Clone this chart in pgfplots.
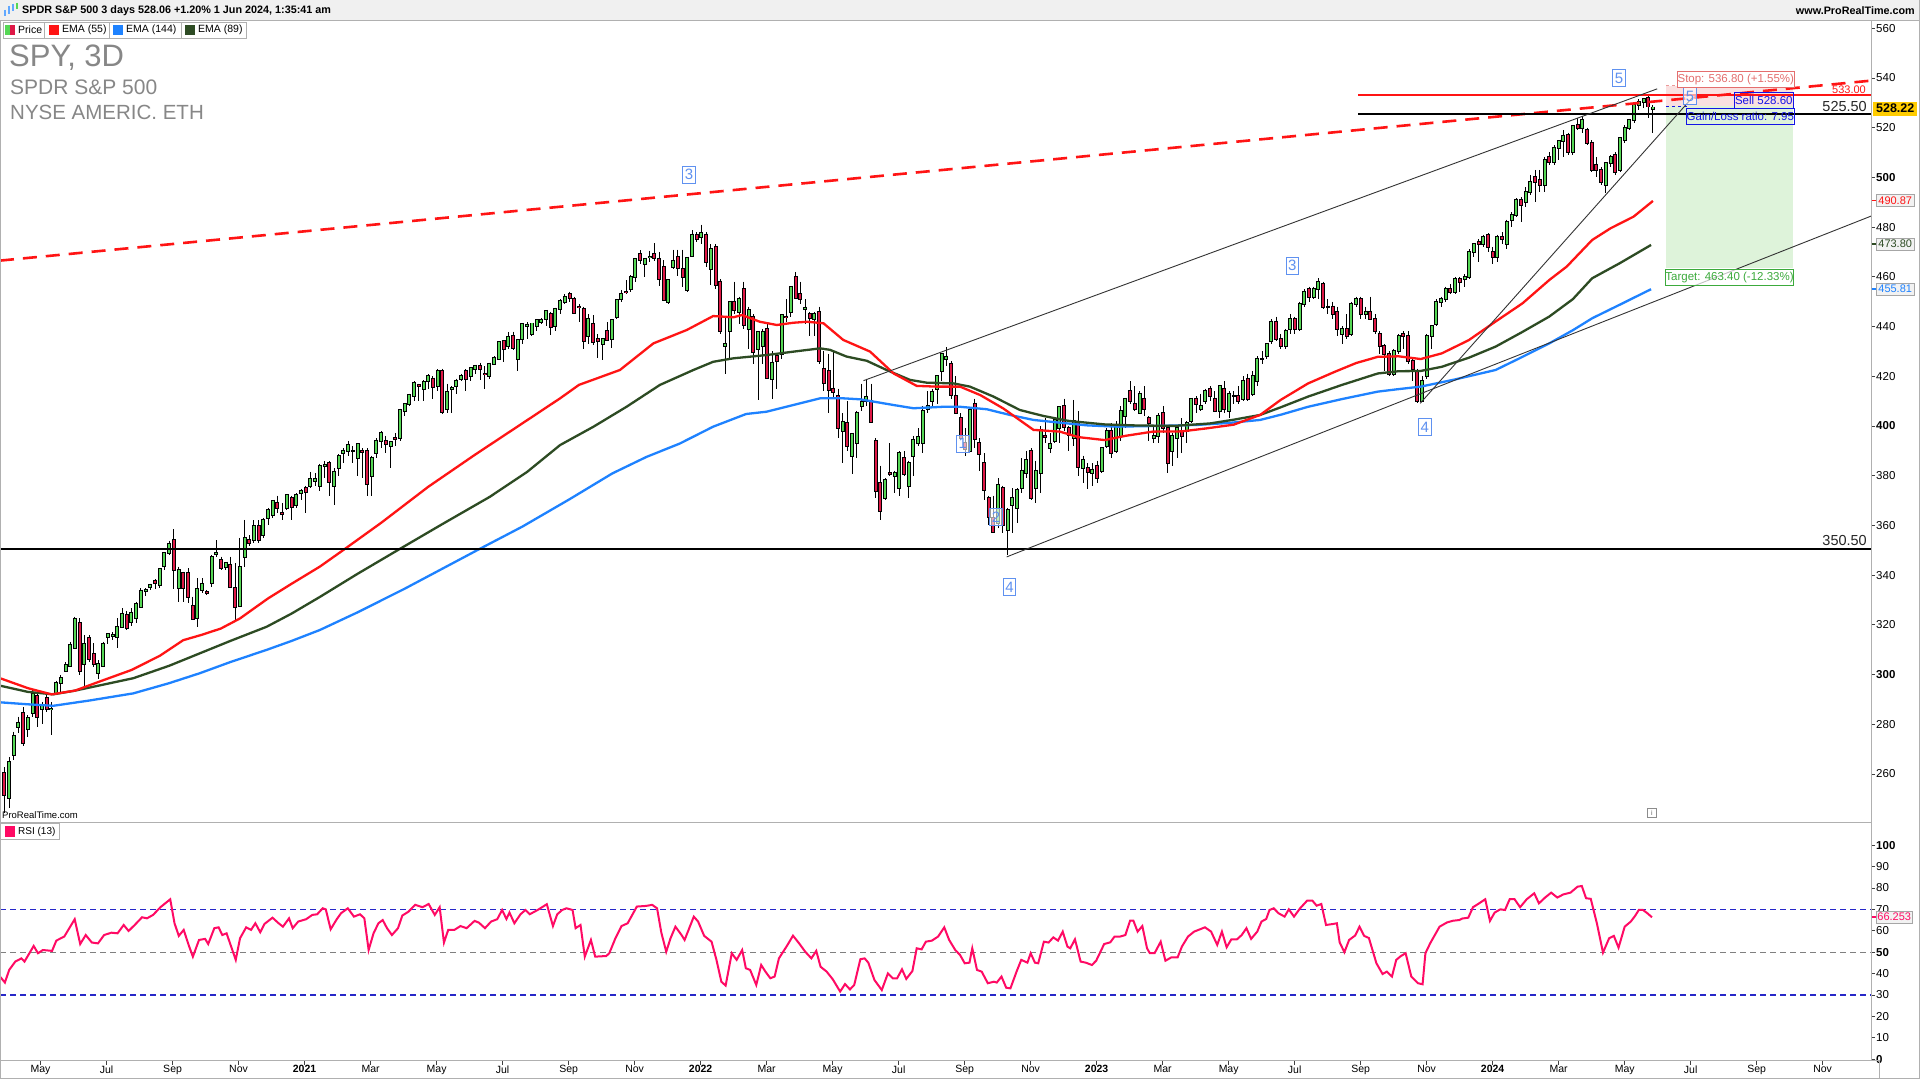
\documentclass[border=0pt]{standalone}
\usepackage{pgfplots}
\pgfplotsset{compat=1.18}
\usepackage{pgfplotstable}
\usepackage{fontspec}
\setmainfont{Liberation Sans}
\definecolor{upc}{RGB}{85,215,85}
\definecolor{dnc}{RGB}{222,24,70}
\definecolor{emaA}{RGB}{255,20,20}
\definecolor{emaB}{RGB}{45,75,35}
\definecolor{emaC}{RGB}{30,130,255}
\definecolor{rsic}{RGB}{255,10,100}
\definecolor{wave}{RGB}{95,145,240}
\definecolor{frame}{RGB}{176,176,176}
\definecolor{stopc}{RGB}{228,110,110}
\definecolor{tgtc}{RGB}{60,170,60}
\definecolor{sellc}{RGB}{20,20,230}
\definecolor{pinkbox}{RGB}{250,224,224}
\definecolor{greenbox}{RGB}{222,243,218}
\definecolor{gold}{RGB}{255,204,0}
\definecolor{rsiband}{RGB}{40,40,200}
\pgfplotstableread{
i o h l c
0 260.2 262.6 244.1 251.4
1 250.2 266.7 246.1 264.7
2 267.6 277 265.6 275.3
3 279 283 276.3 280.6
4 284.6 286.8 271.2 272.6
5 277.9 283.5 275 282.4
6 284.6 293.8 283 292.1
7 291.3 292.4 278.8 283
8 286 289 280 287.7
9 290.4 292.4 285 286
10 286 289 275.7 286.3
11 292.4 297.5 291.8 296.4
12 296.4 299.8 292.4 298.4
13 301.5 305 301 303.8
14 303.4 313.2 303.1 311.9
15 310.8 323.3 310.8 322.2
16 320.6 322.6 299.8 301.5
17 304.2 315.9 294.4 312.3
18 314.5 315.9 305.2 306.1
19 308.1 312.5 303.2 304.2
20 300.7 305.8 298 304.2
21 303.5 313.2 303.1 312.3
22 315 316.3 312.3 316.3
23 315.6 317 314 315.9
24 315 322.6 310.5 319
25 319 326.6 318.6 324.3
26 323.9 325.6 317.9 318.8
27 321.2 326.6 319.5 324.9
28 322.6 329.3 320.8 328.4
29 327.3 334.6 326.6 333.7
30 333.6 334.6 331.5 333.8
31 335 336.6 334 336
32 337.6 338.3 334.5 337
33 336 342.3 334.6 342.3
34 343.8 349.3 342 348.7
35 348.7 353.8 348 352.5
36 354.1 358.4 334.3 342
37 334.6 343.4 329.3 342
38 340.7 341.4 329.3 334.6
39 340.7 342.7 328.9 331
40 327.6 331.3 321.9 322.2
41 322.6 338.7 319.2 334.3
42 334 338.7 332.6 336.4
43 333 334 332 332.9
44 336.7 348.1 335.3 347.1
45 348.5 354.1 347.4 348.7
46 346 347.4 342 342.7
47 343.4 345 342 345
48 344 347.4 334.6 335.3
49 334.6 344.7 322 327
50 327.5 355 327.3 343.1
51 347.4 362.2 343.4 354.8
52 354.1 356 351.5 352.8
53 354.1 362 352.8 359.7
54 359.7 362 353 354.1
55 356 363 355 362
56 363 367 360 366
57 364 370 363 369.9
58 369 372 365 366.9
59 365 369 362 364.7
60 367 372.5 366 372.2
61 371 372 362 367.2
62 368 373 367 372.2
63 373 374.7 370 373.9
64 375 376 364.8 373.6
65 376 381.5 375 378.7
66 378 381 376 378.5
67 376 384.8 374 383.9
68 384 385.9 379 384.4
69 385 385.9 372 377.6
70 376 383 368 381.6
71 383 388.5 380 387.7
72 389 391 385 390.1
73 390 394 388 392.4
74 390 392 385 390
75 387 393 380 392.6
76 390 391 379 389.6
77 390 391 371.9 376.7
78 380 388 372 387.2
79 389 395 387 394.1
80 394 398 391 397.3
81 394 396 389 392.6
82 392 394 383 393.5
83 395 397 392 394.7
84 395 407 394 406.4
85 406 409 404 408.9
86 409 413 408 412.5
87 412 417.9 410 417.3
88 416.3 417 410 416.1
89 415 418.3 410 417.6
90 418 420.7 415 420.1
91 419 420 411 415.6
92 416 422.8 414 422.1
93 422 423 404.7 405.4
94 407 417 405 413.5
95 415 416 405 415.3
96 416 419 413 418.2
97 419 421 418 420
98 422 422.7 414 418.8
99 420 423.2 418 423.1
100 423 424.6 421 424.3
101 424 425.5 418.5 422.7
102 421 424 414.7 420.9
103 420 425.5 419 425.1
104 425 428 424.5 427.5
105 427 434 426.5 433.7
106 434 434.1 425.6 430.9
107 432 437.8 431 435.6
108 436 437.9 430.5 431.3
109 427 435 422 434.6
110 435 441.1 433 441
111 440 441.8 435 440.7
112 437 441.3 436.1 441.2
113 440 442.9 438 442.5
114 442 443.4 440.8 442.7
115 443 446.4 440 446.3
116 445 446 436.4 439.8
117 440 447.6 438 447.1
118 447 451 445 450.3
119 450 453.1 449 451.8
120 453 454 450 451.5
121 451 452 445.2 445.4
122 448 448.9 442 447.9
123 447 448 430.9 434
124 436 444.9 433 443.2
125 441 444.5 432.7 433.7
126 435 436.8 427.5 434.2
127 433 435 426.4 434.9
128 438 441.7 434.7 434.7
129 435 442.7 431.5 442.5
130 444 450.7 443 450.6
131 451 454.7 450 453.1
132 454 458.5 453 453.9
133 455 460.7 454 460
134 460 467.4 458 467
135 469 470.7 465 466.7
136 465 467.5 460 467.3
137 468 470.5 466 468.1
138 469 473.5 466.5 467.6
139 467 470 456.4 459
140 464 466.6 450.4 450.5
141 450 459 448.9 458.8
142 464 470.9 463 466.4
143 468 470.9 460.3 463.4
144 463 470.9 456 459.9
145 454.5 467.8 454 467.7
146 468.5 478.8 468 477
147 477 477.9 474 475
148 476 481 473 477.6
149 477 478 464 466
150 463 473 456.6 471
151 472 473 455 456.5
152 458 459 437 438
153 432 444 420.8 433
154 438 450 427 450
155 450 458 445 446.6
156 446 452 441 451
157 455 458 439 440.5
158 439 448 431 446.6
159 444 445 425 429.6
160 431 438 410.6 437.8
161 432 439 425 437.9
162 439 441 419 419.4
163 419 430 411 425.5
164 428 429 415 426
165 429 445 427 444.5
166 444 451 442 443.8
167 446 456 444 456
168 460 462 451 451.6
169 453 458 449 451
170 447 451 441 447.6
171 445 446 436 443.3
172 443 446 436 445
173 446 448 425 426
174 423 430 414 417.3
175 422 429 405 414.5
176 415 430 411 413.8
177 412 415 395 399
178 398 405 385 401.7
179 401 410 390 391.9
180 388 397 380.5 396.9
181 393 406 387 405.3
182 408 417 406 409.6
183 410 419 408 411.8
184 410 417 401 401.4
185 394 395 371 373.9
186 377 384 362.2 365.9
187 371 379 370 378.1
188 381 393 380 380.6
189 380 382 373 381.2
190 375 389.8 372 389
191 387 390 380 380.8
192 376 386 371 385
193 388 396 380 394.4
194 393 399 392 395.6
195 393 408 389 406
196 407 414 405 408
197 410 415 408 413.5
198 415 420 409 420
199 422 429 418 429
200 427 431.7 424 427.9
201 425 426 411 412.4
202 412 420 405 405.3
203 403 405 395 395.2
204 393 399 388 390.8
205 390 407 389 406.6
206 409 411 391 394.6
207 393 395 382 388.6
208 385 389 370 374.2
209 371 372 360 363.4
210 363 372 357 357.2
211 361 379 359 376.4
212 375 376 357 360
213 358 367 348.1 366
214 368 375 357 371.1
215 367 375 361 374.3
216 375 387 373 382
217 381 390 379 386.2
218 390 391 370 371
219 375 386 369 382
220 381 400 373 398.5
221 396 403 393 395.5
222 391 397 389 392.8
223 394 403 393 402.3
224 399 408 393 407.7
225 408 411 398 399.6
226 399 400 390 396.2
227 395 410.5 392 402
228 401 406 380 383.3
229 383 388 377 386.2
230 383 385 374.8 381.4
231 381 385 376 382.4
232 384 386 377 379
233 382 391 381 391
234 392 399 391 398
235 398 401 387 389
236 390 402 389 400
237 396 408 394 406
238 404 411 399 411
239 414 418 409 410
240 409 416 406 407
241 405 414 405 413
242 411 416 404 407
243 403 404 394 401
244 395 400 393 396
245 396 405 393 404
246 405 408 397 399
247 399 400 381 385
248 390 397 384 396
249 395 399 387 399
250 398 403 389 396
251 398 402 393 401
252 402 411 401 411
253 411 412 405 409
254 407 413 406 408
255 410 415 409 414
256 415 416 410 412
257 411 414 406 406
258 406 416 403 416
259 415 418 405 407
260 406 414 403 413
261 412 414 409 412
262 412 416 409 410
263 411 420 410 418
264 419 421 410 411
265 413 422 412 420
266 418 428 416 427
267 427 430 425 427
268 428 433 427 433
269 434 443 433 442
270 442 444 434 435
271 435 437 431 432
272 432 439 431 438
273 439 445 437 443
274 443 444 437 439
275 439 450 438 449
276 449 455 448 454
277 455 456 450 452
278 452 456 451 455
279 455 459.4 451 458
280 457 458 447 448
281 448 451 445 448
282 448 450 443 445
283 446 448 436 439
284 437 440 433 439
285 439 445 435 436
286 437 450 436 449
287 449 452 448 451
288 451 452 443 445
289 445 448 443 446
290 446 452 443 443
291 443 445 437 438
292 437 438 429 432
293 432 433 422 429
294 429 430 420 421
295 421 431 420 430
296 430 437 429 436
297 437 438 431 436
298 436 438 425 426
299 426 427 418 423
300 422 423 409.2 410
301 410 420 409.5 418
302 420 437 419 436
303 436 440 431 440
304 441 451 440 450
305 450 452 448 451
306 451 456 450 455
307 455 457 453 454
308 454 460 453 459
309 459 460 454 458
310 459 461 456 460
311 460 471 459 470
312 470 473 468 473
313 474 475 466 473
314 473 477 472 476
315 477 477.5 470 472
316 470 472 465 468
317 468 477 466 476
318 476 478 473 475
319 473 483 471 482
320 483 486 480 485
321 485 491.5 484 491
322 491 492 482 489
323 490 496 488 494
324 494 501 493 498
325 500 503 490 498
326 499 503 494 497
327 497 508 494 507
328 508 510 505 506
329 506 513 505 512
330 512 515 507 514.8
331 514.8 519 508 516.8
332 517 518 509 510
333 510 521 509 520.5
334 521 524 519 520
335 520 524.6 518 523
336 519 520 513 514
337 514 515 502 503
338 505 508 500 503
339 503 504 497 498
340 497 506 493.9 505.7
341 505.7 509 504 508
342 509 510 501 502
343 503 516 502 515.7
344 515 521 514 520
345 520 523.5 519 523
346 523 529.8 522 529
347 529 531.5 527 530.2
348 530.2 532 528 531.5
349 532 533.1 524 528.5
350 527.5 529 518 528.1
}\candles
\pgfplotstableread{
i r
-0.91 38.6
0.13 35.8
1.04 41.7
2.34 45.6
3.64 47.1
4.29 45.6
6.24 52.9
7.15 49.5
8.19 51.0
10.14 50.6
11.05 55.4
12.74 57.3
14.95 65.4
16.12 53.8
17.29 58.0
18.59 54.5
19.89 54.1
21.19 58.0
22.75 59.1
24.05 58.8
25.35 62.7
26.39 59.9
27.69 62.7
29.25 66.3
30.29 65.8
31.59 67.4
33.15 71.0
35.23 74.7
36.14 63.5
37.05 57.6
38.09 60.4
39.13 53.4
40.04 47.9
41.34 55.7
42.64 56.2
43.29 53.8
44.59 61.2
45.50 61.6
46.28 58.0
47.19 58.8
49.14 46.4
50.05 56.5
51.35 61.6
52.39 60.4
53.30 63.5
54.34 59.3
55.25 63.2
56.94 66.1
58.24 63.5
59.15 61.9
60.45 65.8
61.23 61.2
62.40 64.3
64.09 65.4
65.39 67.4
66.43 67.7
67.60 70.5
68.25 70.0
69.29 60.7
70.59 65.4
71.50 68.2
72.93 70.5
74.23 66.6
75.53 67.7
76.44 65.8
77.35 51.0
78.39 58.8
79.43 63.5
80.34 65.0
81.25 61.2
82.29 58.0
83.59 61.2
84.50 67.1
85.80 68.9
87.23 72.1
88.79 71.0
90.09 72.5
91.39 67.4
92.43 71.0
93.34 54.5
94.25 60.4
95.55 60.4
96.85 62.2
98.15 61.2
99.84 64.6
100.75 63.8
102.05 61.2
103.35 64.3
104.65 65.4
105.69 69.7
106.60 65.5
107.25 68.5
108.29 63.5
109.59 67.7
110.63 69.7
111.54 67.7
113.23 69.7
115.18 72.4
116.48 62.2
117.39 67.7
118.43 69.7
119.34 70.5
120.64 69.7
121.29 61.2
122.33 62.7
123.24 47.9
124.54 55.7
125.45 47.9
127.79 48.2
128.44 49.5
129.74 56.5
131.04 62.2
132.34 63.5
134.29 71.3
136.24 71.6
137.54 72.1
138.58 70.5
139.49 59.1
140.53 50.2
141.44 56.5
142.48 61.9
143.78 58.0
144.43 55.7
146.38 66.6
147.29 64.3
148.59 57.6
150.15 54.9
151.19 46.4
152.23 36.2
153.14 34.4
154.44 49.5
155.48 46.4
156.65 51.0
157.43 42.5
158.34 41.7
159.64 34.7
160.69 44.0
161.59 40.9
162.63 37.8
163.54 38.6
164.45 47.1
166.14 52.9
167.44 57.7
168.74 54.1
170.04 50.2
171.34 47.1
172.38 50.6
173.29 43.2
174.59 40.9
175.89 37.3
177.45 31.6
178.49 35.1
179.53 32.6
180.44 34.7
181.74 46.7
182.65 47.1
183.43 45.1
184.73 37.0
186.29 32.3
187.59 40.1
188.63 37.8
189.54 37.8
190.58 42.0
191.49 37.5
192.79 41.2
193.70 51.8
194.74 51.3
195.65 54.9
196.95 55.4
198.25 57.3
199.55 61.6
200.59 55.7
201.89 51.0
202.9 48.7
203.9 44.8
204.9 45.1
205.5 51.8
206.5 41.7
207.5 40.9
208.8 35.5
210.1 36.2
210.7 35.8
211.7 38.6
212.7 33.4
213.6 33.1
214.9 40.9
215.9 46.4
217.2 45.1
217.9 49.5
218.8 45.1
219.5 44.8
220.7 54.9
221.7 54.5
222.7 56.9
223.7 55.4
224.7 59.6
225.7 52.6
226.3 51.8
227.3 56.0
228.5 45.6
229.6 45.1
230.9 44.0
231.8 46.0
233.5 53.8
234.8 54.6
235.7 57.3
236.9 57.3
238.0 58.0
239.0 64.7
239.7 64.7
240.6 59.6
241.6 62.2
242.6 51.8
243.2 49.5
244.2 49.5
245.5 54.9
246.5 46.0
247.8 47.6
249.1 47.6
250.0 52.6
251.3 57.3
252.6 59.6
254.9 61.6
256.2 59.6
257.5 53.4
258.5 59.6
259.5 52.3
260.5 56.0
261.7 56.0
262.7 58.0
263.7 61.2
264.7 56.2
266.0 59.6
266.9 64.3
267.9 65.5
268.6 69.7
269.5 70.5
270.5 68.2
271.8 66.6
272.7 70.0
273.8 66.6
275.1 70.5
276.6 74.1
277.7 74.1
278.6 71.7
279.6 72.5
280.6 62.7
282.2 63.2
282.9 63.5
283.5 54.5
284.5 50.0
285.5 55.7
286.8 57.8
287.7 61.9
288.7 57.6
289.7 56.6
291.3 44.8
292.6 39.8
293.5 40.9
294.6 38.6
295.5 46.4
296.5 48.2
297.5 49.5
298.7 38.6
300.1 35.5
301.1 35.0
301.7 49.5
302.7 54.1
303.7 58.0
304.7 61.9
306.3 63.9
307.6 64.7
308.9 65.0
309.5 65.7
310.8 66.1
311.8 71.0
313.1 72.8
314.4 74.7
315.4 64.6
316.4 68.5
317.6 70.0
318.6 69.7
319.6 74.8
320.6 74.8
321.8 71.0
323.2 74.7
324.8 77.5
325.8 72.8
327.1 75.5
328.4 77.8
329.7 75.5
331.0 77.0
332.5 77.8
334.0 80.6
334.9 80.9
335.8 75.2
336.8 74.9
338.1 63.5
339.4 49.8
340.7 56.5
341.7 57.6
342.7 52.1
344.0 61.9
345.3 64.3
346.2 66.9
347.0 69.7
347.9 69.7
348.8 68.2
349.8 66.3
}\rsitab
\begin{document}
\begin{tikzpicture}[x=1pt,y=1pt]
\useasboundingbox (0,0) rectangle (1920,1080);
\fill[white] (0,0) rectangle (1920,1080);
% ================= MAIN PRICE PANEL =================
\begin{axis}[
  at={(0pt,258pt)}, anchor=south west, scale only axis,
  width=1871pt, height=801pt,
  xmin=-0.91, xmax=396.3, ymin=240.65, ymax=562.9,
  axis x line=none, axis y line*=right,
  axis line style={draw=none},
  ytick={260,280,...,560},
  yticklabels={260,280,\textbf{300},320,340,360,380,\textbf{400},420,440,460,480,\textbf{500},520,540,560},
  tick align=outside, major tick length=4pt,
  y tick style={black!75, line width=0.8pt},
  yticklabel style={font=\fontsize{11.5}{12}\selectfont, inner sep=1pt},
  /pgf/number format/assume math mode=true,
]
% trade boxes
\fill[pinkbox] (axis cs:352.8,528.6) rectangle (axis cs:379.8,536.8);
\fill[greenbox] (axis cs:352.8,463.4) rectangle (axis cs:379.8,528.6);
\addplot[stopc!70, dashed, line width=0.8pt] coordinates {(352.8,536.8) (379.8,536.8)};
\addplot[sellc, dashed, line width=0.8pt] coordinates {(352.8,528.6) (357.5,528.6)};
% wicks
\addplot[draw=none, mark=none, error bars/.cd, y dir=minus, y explicit, error mark=none,
  error bar style={draw=black, line width=0.9pt}]
  table[x=i, y=h, y error minus expr={\thisrow{h}-\thisrow{l}}] {\candles};
% body outlines
\addplot[draw=none, mark=none, error bars/.cd, y dir=minus, y explicit, error mark=none,
  error bar style={draw=black, line width=4pt}]
  table[x=i, y expr={max(\thisrow{o},\thisrow{c})+0.4}, y error minus expr={abs(\thisrow{c}-\thisrow{o})+0.8}] {\candles};
% up bodies
\addplot[draw=none, mark=none, error bars/.cd, y dir=minus, y explicit, error mark=none,
  error bar style={draw=upc, line width=2pt}]
  table[x=i, y expr={\thisrow{c}>=\thisrow{o} ? \thisrow{c} : nan}, y error minus expr={\thisrow{c}-\thisrow{o}}] {\candles};
% down bodies
\addplot[draw=none, mark=none, error bars/.cd, y dir=minus, y explicit, error mark=none,
  error bar style={draw=dnc, line width=2pt}]
  table[x=i, y expr={\thisrow{c}<\thisrow{o} ? \thisrow{o} : nan}, y error minus expr={\thisrow{o}-\thisrow{c}}] {\candles};
% EMA 144
\addplot[emaC, line width=2.3pt] coordinates {
(-0.9,288.8) (5,288) (10.4,287.4) (18,289.5) (27.4,292.4) (35,296.5) (41.5,300.5) (48,305) (55.7,309.9) (61,313.5) (67,317.9) (75,325) (85,334.5) (100.5,350.1) (110,359.5) (120,370.5) (129.1,380.9) (136.3,387.5) (143.4,392.9) (150.5,399.7) (157.5,404.8) (161.8,405.7) (167.5,408.4) (173.2,411.1) (178.1,411.1) (181.7,410.7) (188.8,408.4) (193,407.1) (199.4,407.7) (202.9,407.7) (208.6,406.7) (213.5,404.4) (218.5,402.4) (224.1,401.3) (230,400.2) (236.2,399.7) (245,400) (253.3,400.4) (260,401.2) (266.6,402.4) (271,404.5) (276.8,407.7) (284,410.8) (291.6,413.8) (296,414.8) (300.7,415.8) (308,418.7) (316.6,422.5) (322,427.5) (328,433.2) (333,438.5) (337.1,443.3) (343,448.8) (349.6,455)};
% EMA 89
\addplot[emaB, line width=2.3pt] coordinates {
(-0.9,295.5) (5,293) (10.4,292) (15,293.5) (20,295.5) (27.4,298.5) (35,303.5) (41.5,308.5) (48,313.5) (55.7,319.2) (61,324.5) (67,331.2) (75,340.5) (83.6,350.1) (93,360.5) (103.1,371.5) (111,381.5) (118,392.3) (125.1,399.7) (132.1,407.7) (139.2,416.5) (146.3,422.5) (150.5,425.8) (154.8,427.2) (161.8,428.5) (168.9,430.2) (173.2,431.2) (175.3,430.6) (178.8,427.9) (183.1,426.2) (187.3,422.5) (192.3,418.5) (195.8,417.4) (201.5,417.1) (205,415.8) (210,411.8) (215.6,406.4) (220.6,404) (226,402) (233.6,400.6) (240,400.2) (248.4,400) (256,401) (261,402.5) (266.6,404.4) (271,407.5) (276.8,411.8) (284,416.5) (291.6,421.1) (296,422) (300.7,422.1) (305.2,423.8) (311,427.5) (316.6,431.9) (322,437.5) (328,444) (333,451) (337.1,459.4) (343,465.5) (349.6,472.8)};
% EMA 55
\addplot[emaA, line width=2.3pt] coordinates {
(-0.9,298.5) (5,294.5) (10,292) (15,293.5) (20,297) (27,301.8) (33,307.5) (38,313.8) (42,316) (46,318.5) (50,322.5) (56,330.6) (61,336.5) (67,343.4) (72,350.1) (80,361) (90,375.5) (100,388.5) (111,402.3) (118,411.1) (122,416.5) (126.5,419.6) (130.7,422.5) (137.8,433.2) (144.9,438.6) (150.5,444.2) (154.8,443.7) (156.6,444.6) (160.4,441.9) (164,440.6) (167.5,441.5) (170.4,441.9) (173.9,441.3) (178.1,434.6) (183.8,429.9) (188.8,421.1) (193.7,416.1) (198,415.8) (202.9,415.8) (207.2,412.4) (212.1,407) (218.5,398.4) (224.1,397.7) (228,395.5) (233.6,394.3) (238,396) (243.8,397.7) (250,397.8) (255.2,399) (261,400.5) (266.6,404.4) (271,410.5) (276.8,417.1) (282.5,421.8) (287,425.3) (291.6,427.8) (296,428) (300.7,426.9) (305.2,429.2) (310.9,434.5) (316.6,442) (322.3,449.3) (328,458.7) (331.7,464.1) (337.1,474.8) (341,479.5) (345.9,484.2) (350,490.5)};
% trend lines
\addplot[emaA, line width=2.6pt, dash pattern=on 14pt off 9pt] coordinates {(-0.91,466.5) (396.3,538.9)};
\addplot[black, line width=2.2pt] coordinates {(-0.91,350.5) (396.3,350.5)};
\addplot[black, line width=2pt] coordinates {(287.4,525.5) (396.3,525.5)};
\addplot[emaA, line width=2pt] coordinates {(287.4,533) (396.3,533)};
\addplot[black!80, line width=0.9pt] coordinates {(182.4,418.2) (350.9,535.6)};
\addplot[black!80, line width=0.9pt] coordinates {(212.8,347.3) (396.3,484.4)};
\addplot[black!80, line width=0.9pt] coordinates {(300.6,409.1) (358.5,532.4)};
\end{axis}
% ================= RSI PANEL =================
\begin{axis}[
  at={(0pt,19.3pt)}, anchor=south west, scale only axis,
  width=1871pt, height=238.7pt,
  xmin=-0.91, xmax=396.3, ymin=-0.7, ymax=110.8,
  axis x line*=bottom, axis y line*=right,
  axis line style={draw=none},
  ytick={0,10,...,100},
  yticklabels={\textbf{0},10,20,30,40,\textbf{50},60,70,80,90,\textbf{100}},
  xtick={7.70,21.72,35.73,49.74,63.75,77.76,91.78,105.79,119.80,133.82,147.83,161.84,175.85,189.87,203.88,217.89,231.90,245.91,259.93,273.94,287.95,301.96,315.97,329.99,344.00,358.01,372.02,386.03},
  xticklabels={May,Jul,Sep,Nov,\textbf{2021},Mar,May,Jul,Sep,Nov,\textbf{2022},Mar,May,Jul,Sep,Nov,\textbf{2023},Mar,May,Jul,Sep,Nov,\textbf{2024},Mar,May,Jul,Sep,Nov},
  tick align=outside, major tick length=4pt,
  tick style={black!75, line width=0.8pt},
  yticklabel style={font=\fontsize{11.5}{12}\selectfont, inner sep=1pt},
  xticklabel style={font=\fontsize{10.5}{11}\selectfont, inner sep=0.5pt},
  /pgf/number format/assume math mode=true,
]
\addplot[rsiband, line width=1.2pt, dash pattern=on 6pt off 4pt] coordinates {(-0.91,70) (396.3,70)};
\addplot[rsiband, line width=1.2pt, dash pattern=on 6pt off 4pt] coordinates {(-0.91,30) (396.3,30)};
\addplot[gray, line width=1.2pt, dash pattern=on 6pt off 4pt] coordinates {(-0.91,50) (396.3,50)};
\addplot[rsic, line width=2pt] table[x=i, y=r] {\rsitab};
\end{axis}
% ================= DECORATION (pixel coordinates, y down) =================
\begin{scope}[shift={(0pt,1080pt)}, x=1pt, y=-1pt]
% header
\fill[black!6] (0,0) rectangle (1920,20.5);
\draw[frame, line width=0.8pt] (0,20.8) -- (1920,20.8);
\draw[emaC!70, line width=1.4pt] (5,10) -- (5,16) (9,6) -- (9,14) (13,4) -- (13,11);
\draw[upc, line width=1.4pt] (17,3) -- (17,9);
\node[anchor=west, inner sep=0pt, font=\fontsize{10.8}{12}\selectfont\bfseries] at (22,10.5) {SPDR S\&P 500 3 days 528.06 +1.20\% 1 Jun 2024, 1:35:41 am};
\node[anchor=east, inner sep=0pt, font=\fontsize{10.8}{12}\selectfont\bfseries] at (1915,10.5) {www.ProRealTime.com};
% frames
\draw[frame, line width=0.9pt] (0.5,21) -- (0.5,1078.5);
\draw[frame, line width=0.9pt] (1919.3,0) -- (1919.3,1078.5);
\draw[frame, line width=0.9pt] (1871.5,21) -- (1871.5,1060.7);
\draw[frame, line width=0.9pt] (0,822) -- (1871.5,822);
\draw[frame, line width=0.9pt] (0,1060.7) -- (1879,1060.7) -- (1879,1078.5);
\draw[frame, line width=0.9pt] (0,1078.5) -- (1920,1078.5);
% legend row
\foreach \a/\b in {3/44.5, 44.5/109, 109/181, 181/246}{\draw[frame, fill=white] (\a,22) rectangle (\b,38);}
\fill[upc] (5,25) rectangle (10,35); \fill[dnc] (10,25) rectangle (15,35);
\fill[emaA] (49,25) rectangle (59,35);
\fill[emaC] (113,25) rectangle (123,35);
\fill[emaB] (185,25) rectangle (195,35);
\node[anchor=west, inner sep=0pt, font=\fontsize{10.5}{11}\selectfont] at (18,30) {Price};
\node[anchor=west, inner sep=0pt, font=\fontsize{10.5}{11}\selectfont] at (62,30) {EMA (55)};
\node[anchor=west, inner sep=0pt, font=\fontsize{10.5}{11}\selectfont] at (126,30) {EMA (144)};
\node[anchor=west, inner sep=0pt, font=\fontsize{10.5}{11}\selectfont] at (198,30) {EMA (89)};
% titles
\node[anchor=west, inner sep=0pt, text=black!47, font=\fontsize{31}{33}\selectfont] at (9,58) {SPY, 3D};
\node[anchor=west, inner sep=0pt, text=black!47, font=\fontsize{21}{23}\selectfont] at (10,87.5) {SPDR S\&P 500};
\node[anchor=west, inner sep=0pt, text=black!47, font=\fontsize{20.5}{22}\selectfont] at (10,112) {NYSE AMERIC. ETH};
% wave labels
\foreach \x/\y/\t in {689/174.7/3, 962.7/443.7/1, 996/517/2, 1009.5/587/4, 1292.4/265.7/3, 1424.7/427/4, 1619/78.3/5, 1690/96.3/5}{
  \node[draw=wave, fill=white, fill opacity=0.6, text opacity=1, text=wave, line width=0.8pt, inner sep=0pt, minimum width=12.5pt, minimum height=17pt, font=\fontsize{15}{15}\selectfont] at (\x,\y) {\t};}
% trade labels
\node[draw=stopc, fill=white, text=stopc, line width=0.8pt, inner sep=0pt, minimum width=115pt, minimum height=15.5pt, font=\fontsize{11.5}{12}\selectfont] at (1735.8,79.5) {Stop: 536.80 (+1.55\%)};
\node[draw=sellc, text=sellc, line width=0.8pt, inner sep=0pt, minimum width=59pt, minimum height=16pt, font=\fontsize{11.5}{12}\selectfont] at (1763.8,100.3) {Sell 528.60};
\node[draw=sellc, text=sellc, line width=0.8pt, inner sep=0pt, minimum width=106pt, minimum height=15.7pt, font=\fontsize{11.5}{12}\selectfont] at (1740.3,116.2) {Gain/Loss ratio: 7.95};
\node[draw=tgtc, fill=white, fill opacity=0.7, text opacity=1, text=tgtc, line width=0.8pt, inner sep=0pt, minimum width=127.6pt, minimum height=15.7pt, font=\fontsize{11.5}{12}\selectfont] at (1729.5,277.2) {Target: 463.40 (-12.33\%)};
% horizontal line labels
\node[anchor=east, inner sep=0pt, text=emaA, font=\fontsize{11}{12}\selectfont] at (1866,89.5) {533.00};
\node[anchor=east, inner sep=0pt, text=black!85, font=\fontsize{14.5}{15}\selectfont] at (1867,106.3) {525.50};
\node[anchor=east, inner sep=0pt, text=black!85, font=\fontsize{14.5}{15}\selectfont] at (1867,541) {350.50};
% right axis value boxes
\node[anchor=west, fill=gold, inner sep=0pt, minimum width=44pt, minimum height=14pt, font=\fontsize{12.5}{13}\selectfont\bfseries] at (1873,108.7) {528.22};
\foreach \y/\c/\t in {200.4/emaA/490.87, 244/emaB/473.80, 289/emaC/455.81}{
  \draw[\c, line width=1.2pt] (1871.5,\y) -- (1876,\y);
  \node[anchor=west, draw=black!35, fill=black!5, text=\c, inner sep=0pt, minimum width=38pt, minimum height=12.5pt, font=\fontsize{11}{12}\selectfont] at (1876,\y) {\t};}
\draw[rsic, line width=1.2pt] (1871.5,917) -- (1876,917);
\node[anchor=west, draw=black!35, fill=black!5, text=rsic, inner sep=0pt, minimum width=36pt, minimum height=12.5pt, font=\fontsize{11}{12}\selectfont] at (1876,917) {66.253};
% misc
\node[anchor=west, inner sep=0pt, font=\fontsize{9.5}{10}\selectfont] at (2,815.5) {ProRealTime.com};
\draw[black!45, line width=0.6pt] (1647.5,808.5) rectangle (1656.5,817.5);
\node[inner sep=0pt, text=black!60, font=\fontsize{7}{7}\selectfont] at (1652,813) {i};
\draw[frame, fill=white] (0.5,823.5) rectangle (59,839.5);
\fill[rsic] (5,826) rectangle (15,837);
\node[anchor=west, inner sep=0pt, font=\fontsize{10}{11}\selectfont] at (18,831.5) {RSI (13)};
\end{scope}
\end{tikzpicture}
\end{document}
